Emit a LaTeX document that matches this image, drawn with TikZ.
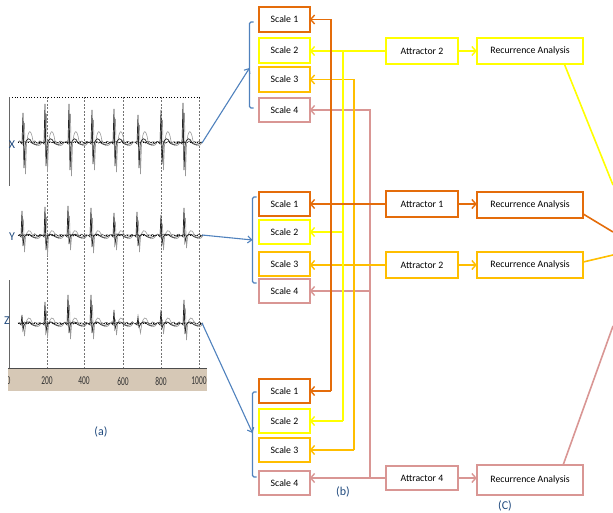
\documentclass[tikz,border=0pt]{standalone}
\usepackage{fontspec}
\setmainfont{Carlito}
\newfontfamily\narrowfont[FakeStretch=0.62]{Carlito}
\usetikzlibrary{arrows.meta,calc,backgrounds}
\definecolor{cOrange}{RGB}{228,108,10}
\definecolor{cYellow}{RGB}{255,255,0}
\definecolor{cAmber}{RGB}{255,190,0}
\definecolor{cPink}{RGB}{217,150,148}
\definecolor{cBlue}{RGB}{79,129,189}
\definecolor{cLabel}{RGB}{31,73,125}
\definecolor{cBar}{RGB}{214,200,182}
\newcommand\ecgbeat[5]{%
  \draw[line width=0.6pt,black!40] (#2-1,#1) -- (#2+1.5,#3+10) -- (#2+2.5,#4) -- (#2+3.5,#1+3)
    .. controls (#2+5,#1-#5-2) and (#2+8,#1-#5-2) .. (#2+10,#1-1)
    .. controls (#2+12,#1+5) and (#2+16,#1+5) .. (#2+19,#1+1);
  \draw[line width=0.7pt,black!85] (#2-3,#1) -- (#2-1,#1+2) -- (#2,#3) -- (#2+1,#4-6) -- (#2+2.2,#1+2)
    .. controls (#2+4,#1-0.4*#5) and (#2+7,#1-0.4*#5) .. (#2+9,#1+1)
    .. controls (#2+11,#1+3) and (#2+15,#1+3) .. (#2+19,#1);
}
\begin{document}
\begin{tikzpicture}[x=1pt,y=-1pt,
  box/.style={rectangle,inner sep=0pt,font=\fontsize{9.8}{10}\selectfont},
  scalebox/.style={box,minimum width=50pt,minimum height=24pt},
  attbox/.style={box,minimum width=72pt,minimum height=26pt},
  recbox/.style={box,minimum width=106pt,minimum height=25pt},
  frame/.style={line width=1.8pt},
  conn/.style={line width=1.6pt},
  tip/.style={-{Straight Barb[length=4pt,width=9pt,line width=1.4pt]}},
  blueline/.style={cBlue,line width=1.1pt},
  bluetip/.style={blueline,-{Straight Barb[length=4pt,width=7pt,line width=1.1pt]}},
  lab/.style={text=cLabel,font=\fontsize{12}{12}\selectfont},
  axlab/.style={text=black!80,font=\narrowfont\fontsize{12}{12}\selectfont,inner sep=0pt},
  vdash/.style={black!55,dash pattern=on 2pt off 1.5pt,line width=0.7pt}
]
\useasboundingbox (0,0) rectangle (613,513);

% ---------- Scale boxes ----------
\node[scalebox] (s11) at (284.5,19.5) {Scale 1};
\node[scalebox] (s12) at (284.5,50.5) {Scale 2};
\node[scalebox] (s13) at (284.5,79.5) {Scale 3};
\node[scalebox] (s14) at (284.5,110) {Scale 4};
\node[scalebox] (s21) at (284.5,204) {Scale 1};
\node[scalebox] (s22) at (284.5,232) {Scale 2};
\node[scalebox] (s23) at (284.5,264) {Scale 3};
\node[scalebox] (s24) at (284.5,291) {Scale 4};
\node[scalebox] (s31) at (284.5,391) {Scale 1};
\node[scalebox] (s32) at (284.5,421) {Scale 2};
\node[scalebox] (s33) at (284.5,450) {Scale 3};
\node[scalebox] (s34) at (284.5,483) {Scale 4};

% ---------- Attractors & recurrence ----------
\node[attbox] (a2t) at (422,51) {Attractor 2};
\node[recbox] (rt)  at (530,51) {Recurrence Analysis};
\node[attbox] (a1)  at (422,204) {Attractor 1};
\node[recbox] (ro)  at (530,205) {Recurrence Analysis};
\node[attbox] (a2m) at (422,265) {Attractor 2};
\node[recbox] (ra)  at (530,265) {Recurrence Analysis};
\node[attbox,minimum height=24pt] (a4) at (422,478) {Attractor 4};
\node[recbox,minimum height=30pt] (rp) at (530,480) {Recurrence Analysis};

% ---------- box frames ----------
\foreach \nd/\cl in {s11/cOrange,s12/cYellow,s13/cAmber,s14/cPink,
                     s21/cOrange,s22/cYellow,s23/cAmber,s24/cPink,
                     s31/cOrange,s32/cYellow,s33/cAmber,s34/cPink,
                     a2t/cYellow,rt/cYellow,a1/cOrange,ro/cOrange,
                     a2m/cAmber,ra/cAmber,a4/cPink,rp/cPink}
  \draw[frame,draw=\cl] (\nd.south west) rectangle (\nd.north east);

% ---------- buses ----------
\coordinate (vO) at (331,0);
\coordinate (vY) at (343,0);
\coordinate (vA) at (354,0);
\coordinate (vP) at (370,0);

\draw[conn,cPink,tip] (vP |- a4.west) -- (vP |- s14.east) -- (s14.east);
\draw[conn,cPink,tip] (vP |- s24.east) -- (s24.east);
\draw[conn,cPink,tip] (a4.west) -- (a4.west -| s34.east);

\draw[conn,cAmber,tip] (vA |- s33.east) -- (vA |- s13.east) -- (s13.east);
\draw[conn,cAmber,tip] (vA |- s33.east) -- (s33.east);
\draw[conn,cAmber,tip] (a2m.west) -- (a2m.west -| s23.east);

\draw[conn,cYellow] (vY |- a2t.west) -- (vY |- s32.east);
\draw[conn,cYellow,tip] (a2t.west) -- (a2t.west -| s12.east);
\draw[conn,cYellow,tip] (vY |- s22.east) -- (s22.east);
\draw[conn,cYellow,tip] (vY |- s32.east) -- (s32.east);

\draw[conn,cOrange,tip] (vO |- s31.east) -- (vO |- s11.east) -- (s11.east);
\draw[conn,cOrange,tip] (vO |- s31.east) -- (s31.east);
\draw[conn,cOrange,tip] (a1.west) -- (a1.west -| s21.east);

% ---------- attractor -> recurrence ----------
\draw[conn,cYellow,tip] (a2t.east) -- (rt.west);
\draw[conn,cOrange,tip] (a1.east) -- (a1.east -| ro.west);
\draw[conn,cAmber,tip] (a2m.east) -- (ra.west);
\draw[conn,cPink,tip] (a4.east) -- (a4.east -| rp.west);

% ---------- lines to the right edge ----------
\coordinate (eY) at (613,185);
\coordinate (eO) at (613,232);
\coordinate (eA) at (613,255);
\coordinate (eP) at (613,326);
\draw[conn,cYellow] ($(rt.south east)+(-19,0)$) -- (eY);
\draw[conn,cOrange] ($(ro.east)+(0,9)$) -- (eO);
\draw[conn,cAmber] ($(ra.east)+(0,-3)$) -- (eA);
\draw[conn,cPink] ($(rp.north east)+(-20,0)$) -- (eP);

% ---------- blue brackets ----------
\draw[blueline,rounded corners=1.5pt] (253.5,22) -- (249.5,22) -- (249.5,108) -- (253.5,108);
\draw[blueline,rounded corners=1.5pt] (256.5,197) -- (252.5,197) -- (252.5,283) -- (256.5,283);
\draw[blueline,rounded corners=1.5pt] (256.5,392) -- (252.5,392) -- (252.5,477) -- (256.5,477);

\node[lab] (lb) at (343,492) {(b)};
\node[lab] (lc) at (505,506) {(C)};

% ---------- ECG panel ----------
\foreach \vx in {47,84,123,161,199} \draw[vdash] (\vx,97) -- (\vx,368);
\draw[dotted,line width=0.8pt] (9,97) -- (200,97);
\draw[black!60,line width=0.7pt] (9,97) -- (9,186);
\draw[black!60,line width=0.7pt] (9,280) -- (9,368);
\foreach \base in {142,235,323} {
  \draw[dotted,line width=0.6pt] (18,\base) -- (202,\base);
  \draw[line width=0.5pt,black!75] plot[domain=18:201,samples=110] (\x,{\base+0.8*sin(\x*70)+0.5*sin(\x*53+\base*7)});
}
\foreach \bx/\bt/\bb in {23/113/174,45/104/172,69/104/176,92/110/170,114/109/172,138/115/174,161/110/170,183/103/176}
  {\ecgbeat{142}{\bx}{\bt}{\bb}{12}}
\foreach \bx/\bt/\bb in {22/211/252,45/207/256,68/206/250,91/208/253,114/213/250,137/212/252,161/215/250,184/208/248}
  {\ecgbeat{235}{\bx}{\bt}{\bb}{4}}
\foreach \bx/\bt/\bb in {22/315/336,45/302/338,68/295/339,91/295/339,114/310/335,138/317/333,161/310/334,184/300/340}
  {\ecgbeat{323}{\bx}{\bt}{\bb}{5}}
\fill[cBar] (8,369) rectangle (207,391);
\draw[black!70,line width=1pt] (8,368.5) -- (207,368.5);
\node[axlab,anchor=east] (t0) at (10.5,381) {0};
\fill[white] (0,369) rectangle (8,391);
\foreach \vx/\vl in {47/200,84/400,123/600,161/800,199/1000}
  \node[axlab] (t\vl) at (\vx,381) {\vl};
\node[lab] (lx) at (12,145) {X};
\node[lab] (ly) at (12,237) {Y};
\node[lab] (lz) at (7,321) {Z};
\node[lab] (la) at (101,432) {(a)};

% ---------- blue arrows ----------
\coordinate (ex) at (202,143);
\coordinate (ey) at (202,235);
\coordinate (ez) at (202,323);
\coordinate (b1) at (249.5,68);
\coordinate (b2) at (252.5,240);
\coordinate (b3) at (252.5,433);
\draw[bluetip] (ex) -- (b1);
\draw[bluetip] (ey) -- (b2);
\draw[bluetip] (ez) -- (b3);
\end{tikzpicture}
\end{document}
